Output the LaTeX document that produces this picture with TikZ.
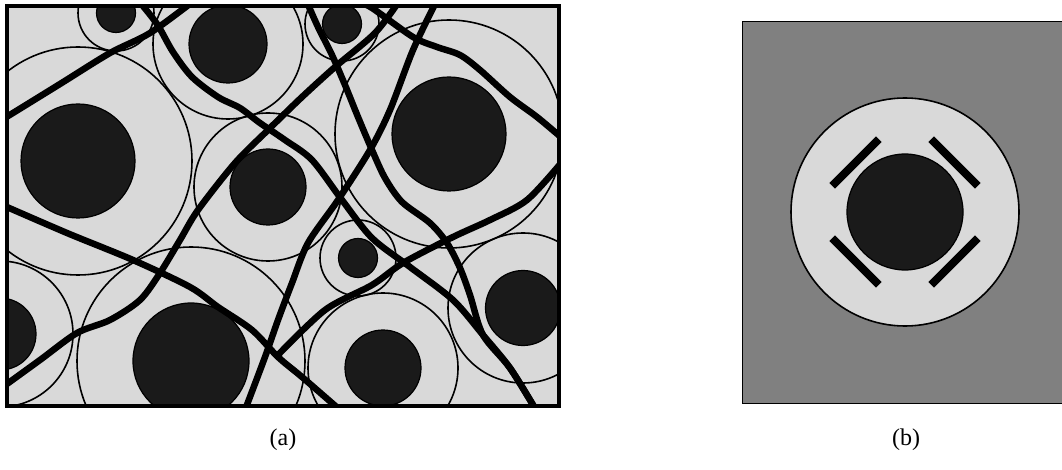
\documentclass[tikz,border=0pt]{standalone}
\usepackage{fontspec}
\setmainfont{Liberation Serif}
\usetikzlibrary{calc}
\definecolor{cellGrey}{HTML}{D9D9D9}
\definecolor{coreBlack}{HTML}{1A1A1A}
\definecolor{hostGrey}{HTML}{808080}
\def\cellList{116/13/38/19.5, 228/44/75/39, 78/161/114/57, 342/24/37/19.5,
  449/134/114/57, 268/187/74/38, 358/258/38/19.5, 523/308/75/37.5,
  383/368/75/38, 191/361/114/58, 0/334/73/36}

\begin{document}
\begin{tikzpicture}[
  x=1pt, y=-1pt,
  shell/.style={draw=black, line width=1.6pt},
  core/.style={draw=black, line width=1.2pt, fill=coreBlack},
  fibre/.style={line width=6.5pt, line join=round},
  slab/.style={line width=8pt},
  caption/.style={font=\fontsize{24}{26}\selectfont},
]
\useasboundingbox (0,0) rectangle (1062,470);

\fill[cellGrey] (7,6) rectangle (559,406);
\begin{scope}
  \clip (7,6) rectangle (559,406);
  \foreach \cx/\cy/\ro/\ri in \cellList
    \draw[shell] (\cx,\cy) circle[radius=\ro];
  \foreach \cx/\cy/\ro/\ri in \cellList
    \draw[core] (\cx,\cy) circle[radius=\ri];
  \draw[fibre] plot[smooth] coordinates {(0,121) (60,84) (110,53) (150,33) (195,0)};
  \draw[fibre] plot[smooth] coordinates {(138,0) (157,24) (173,52) (192,77) (218,97) (240,108)
    (260,123) (285,140) (312,160) (342,200) (372,238) (410,267) (453,300) (483,335) (510,368) (536,410)};
  \draw[fibre] plot[smooth] coordinates {(306,0) (318,27) (332,55) (345,85) (358,117) (372,150)
    (385,178) (402,202) (430,223) (447,243) (460,268) (470,295) (483,335) (510,368) (536,410)};
  \draw[fibre] plot[smooth] coordinates {(0,204) (67,233) (133,260) (190,287) (218,307) (252,330)
    (278,357) (302,377) (340,410)};
  \draw[fibre] plot[smooth] coordinates {(0,389) (40,360) (77,333) (110,320) (140,300) (160,273)
    (180,240) (198,210) (235,163) (268,130) (302,97) (335,67) (375,33) (400,0)};
  \draw[fibre] plot[smooth] coordinates {(355,0) (372,8) (413,37) (437,47) (460,55) (480,70)
    (510,97) (537,117) (562,138)};
  \draw[fibre] plot[smooth] coordinates {(437,0) (413,50) (390,110) (370,150) (338,200) (308,243)
    (292,283) (278,320) (265,357) (245,410)};
  \draw[fibre] plot[smooth] coordinates {(562,162) (527,200) (490,220) (453,237) (403,263)
    (372,285) (325,310) (277,356)};
\end{scope}
\draw[line width=4pt] (7,6) rectangle (559,406);

\draw[line width=1pt, fill=hostGrey] (742,22) rectangle (1075,403);
\coordinate (hub) at (905,212);
\draw[shell, fill=cellGrey] (hub) circle[radius=114];
\draw[core] (hub) circle[radius=58];
\foreach \a in {45,135,225,315}
  \draw[slab] ($(hub)+(\a:70)+({\a+90}:33)$) -- ($(hub)+(\a:70)+({\a-90}:33)$);

\node[caption] (capA) at (283,440) {(a)};
\node[caption] (capB) at (906,440) {(b)};
\end{tikzpicture}
\end{document}
